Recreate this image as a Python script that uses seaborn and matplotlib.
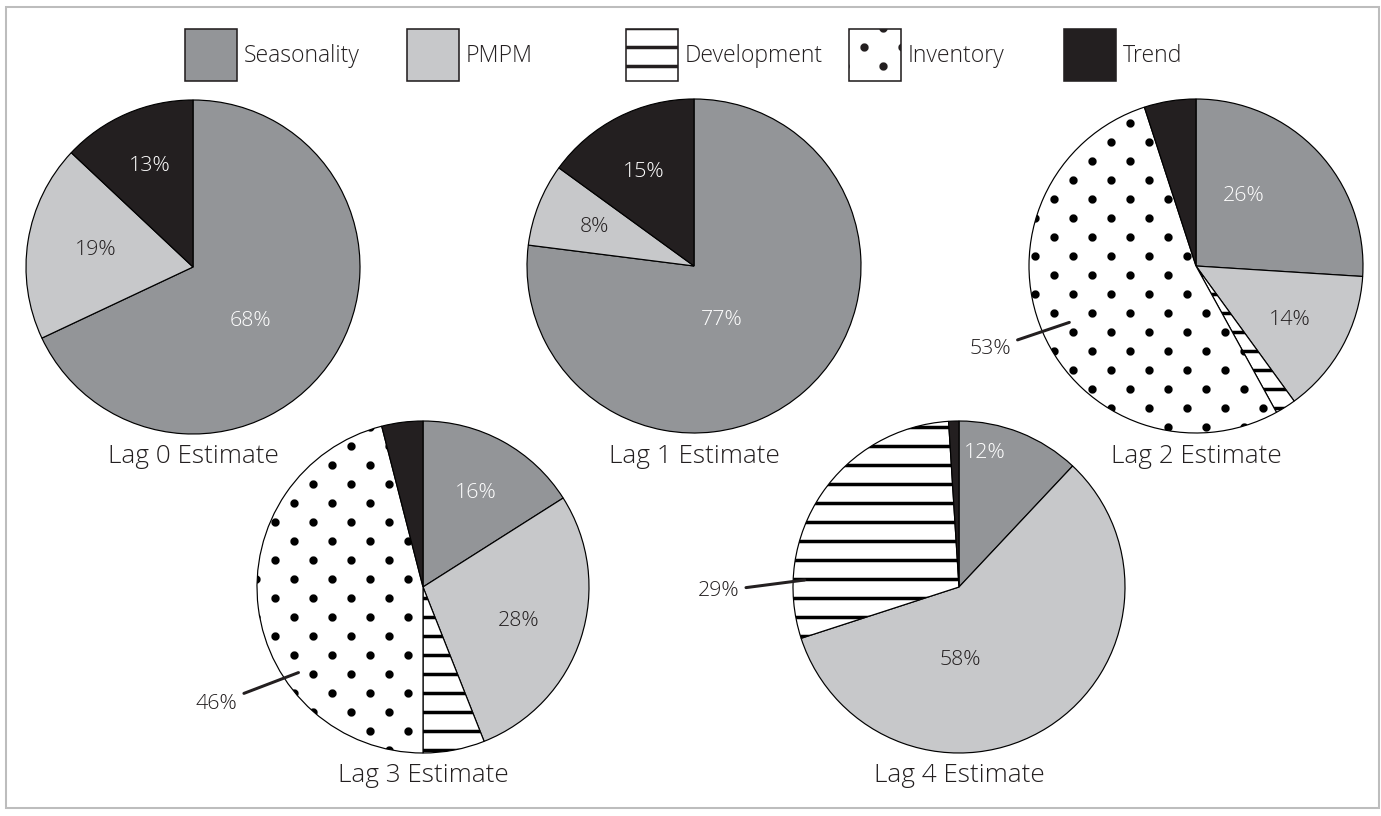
import numpy as np
import matplotlib
matplotlib.use("Agg")
import matplotlib.pyplot as plt
import matplotlib.hatch as mhatch
from matplotlib.path import Path
from matplotlib.patches import Patch, Rectangle
import seaborn as sns

# ---------------------------------------------------------------- data
components = ["Seasonality", "PMPM", "Development", "Inventory", "Trend"]
lag_titles = ["Lag 0 Estimate", "Lag 1 Estimate", "Lag 2 Estimate",
              "Lag 3 Estimate", "Lag 4 Estimate"]
lag0_share = [68, 19, 0, 0, 13]
lag1_share = [77, 8, 0, 0, 15]
lag2_share = [26, 14, 2, 53, 5]
lag3_share = [16, 28, 6, 46, 4]
lag4_share = [12, 58, 29, 0, 1]
shares = [lag0_share, lag1_share, lag2_share, lag3_share, lag4_share]

# ---------------------------------------------------------------- styling
INK = "#231F20"
fills = ["#939598", "#C7C8CA", "#FFFFFF", "#FFFFFF", INK]
hatches = [None, None, "-", "O", None]
label_colors = ["white", INK, INK, INK, "white"]
MIN_LABELLED = 8  # slices below this share carry no label

W, H, DPI = 1381, 816, 114

# pie centres (pixels from top-left) and radii
centres = [(193, 267), (694, 266), (1196, 266), (423, 587), (959, 587)]
radii = [167, 167, 167, 166, 166]
title_baselines = [463, 463, 463, 782, 782]

# inside label spots as (fraction of radius, angle in degrees)
inside_spots = [
    [(0.47, -43), (0.59, 170), None, None, (0.66, 113)],
    [(0.36, -63), (0.64, 158.5), None, None, (0.64, 118)],
    [(0.51, 55.6), (0.65, -30), None, None, None],
    [(0.65, 60.6), (0.61, -19.5), None, None, None],
    [(0.82, 79), (0.44, -89), None, None, None],
]
# outside labels with a leader line: (lag, component) -> (text spot, tip spot)
leader_spots = {
    (2, 3): ((1.33, 202.0), (0.83, 204.0)),
    (3, 3): ((1.43, 209.5), (0.91, 214.5)),
    (4, 2): ((1.45, 181.0), (0.93, 177.4)),
}


# ---------------------------------------------------------------- dot fill
class DotLattice(mhatch.HatchPatternBase):
    """Staggered filled dots, six rows per hatch tile, three dots per row."""

    def __init__(self, hatch, density):
        circle = Path.unit_circle()
        self.shape_vertices = circle.vertices
        self.shape_codes = circle.codes
        self.num_rows = 6 if "O" in hatch else 0
        self.per_row = 3
        self.num_vertices = self.num_rows * self.per_row * len(circle.vertices)

    def set_vertices_and_codes(self, vertices, codes):
        n = len(self.shape_vertices)
        step = 1.0 / self.num_rows
        radius = 0.021
        k = 0
        for row in range(self.num_rows):
            y = step / 2 + row * step
            shift = step if row % 2 else 0.0
            for j in range(self.per_row):
                x = step / 2 + 2 * j * step + shift
                vertices[k:k + n] = self.shape_vertices * radius + (x, y)
                codes[k:k + n] = self.shape_codes
                k += n


mhatch._hatch_types = [DotLattice if t is mhatch.LargeCircles else t
                       for t in mhatch._hatch_types]

# ---------------------------------------------------------------- theme
sns.set_theme(style="white")
plt.rcParams["font.family"] = ["Open Sans", "DejaVu Sans"]
plt.rcParams["font.weight"] = "light"
plt.rcParams["hatch.linewidth"] = 2.2
plt.rcParams["hatch.color"] = "black"
plt.rcParams["text.color"] = INK

fig = plt.figure(figsize=(W / DPI, H / DPI), dpi=DPI)
fig.patch.set_facecolor("white")
ax = fig.add_axes([0, 0, 1, 1])


def polar(cx, cy, r, spot):
    frac, ang = spot
    a = np.deg2rad(ang)
    return cx + frac * r * np.cos(a), cy + frac * r * np.sin(a)


for i, vals in enumerate(shares):
    cx, cy = centres[i][0], H - centres[i][1]
    r = radii[i]
    keep = [k for k, v in enumerate(vals) if v > 0]
    ax.pie([vals[k] for k in keep],
           colors=[fills[k] for k in keep],
           hatch=[hatches[k] or "" for k in keep],
           startangle=90, counterclock=False,
           center=(cx, cy), radius=r, frame=True,
           wedgeprops=dict(edgecolor="black", linewidth=0.75))

    for k, v in enumerate(vals):
        if v < MIN_LABELLED:
            continue
        text = f"{v}%"
        if (i, k) in leader_spots:
            tspot, tip = leader_spots[(i, k)]
            ax.annotate(text, xy=polar(cx, cy, r, tip),
                        xytext=polar(cx, cy, r, tspot),
                        ha="center", va="center", fontsize=13.5, color=INK,
                        arrowprops=dict(arrowstyle="-", color=INK, lw=1.9,
                                        shrinkA=2, shrinkB=0))
        else:
            x, y = polar(cx, cy, r, inside_spots[i][k])
            ax.text(x, y, text, ha="center", va="center", fontsize=13.5,
                    color=label_colors[k])

    ax.text(cx, H - title_baselines[i], lag_titles[i], ha="center",
            va="baseline", fontsize=16.5, color=INK)

ax.set_xlim(0, W)
ax.set_ylim(0, H)
ax.axis("off")

# ---------------------------------------------------------------- legend
legend_left = [185, 407, 626, 849, 1064]
for k, name in enumerate(components):
    handle = Patch(facecolor=fills[k], edgecolor=INK, linewidth=1.0,
                   hatch=hatches[k])
    fig.legend(handles=[handle], labels=[name], loc="center left",
               bbox_to_anchor=(legend_left[k] / W, 1 - 55 / H),
               frameon=False, borderpad=0, borderaxespad=0,
               handlelength=2.26, handleheight=3.1, handletextpad=0.3,
               fontsize=14.5, labelcolor=INK)

# thin frame around the whole figure
fig.patches.append(Rectangle((6 / W, 1 - 808 / H), (1379 - 6) / W,
                             (808 - 7) / H, transform=fig.transFigure,
                             fill=False, edgecolor="#BDBDBD", linewidth=1.3))

fig.savefig("out.png", dpi=DPI, facecolor="white")
